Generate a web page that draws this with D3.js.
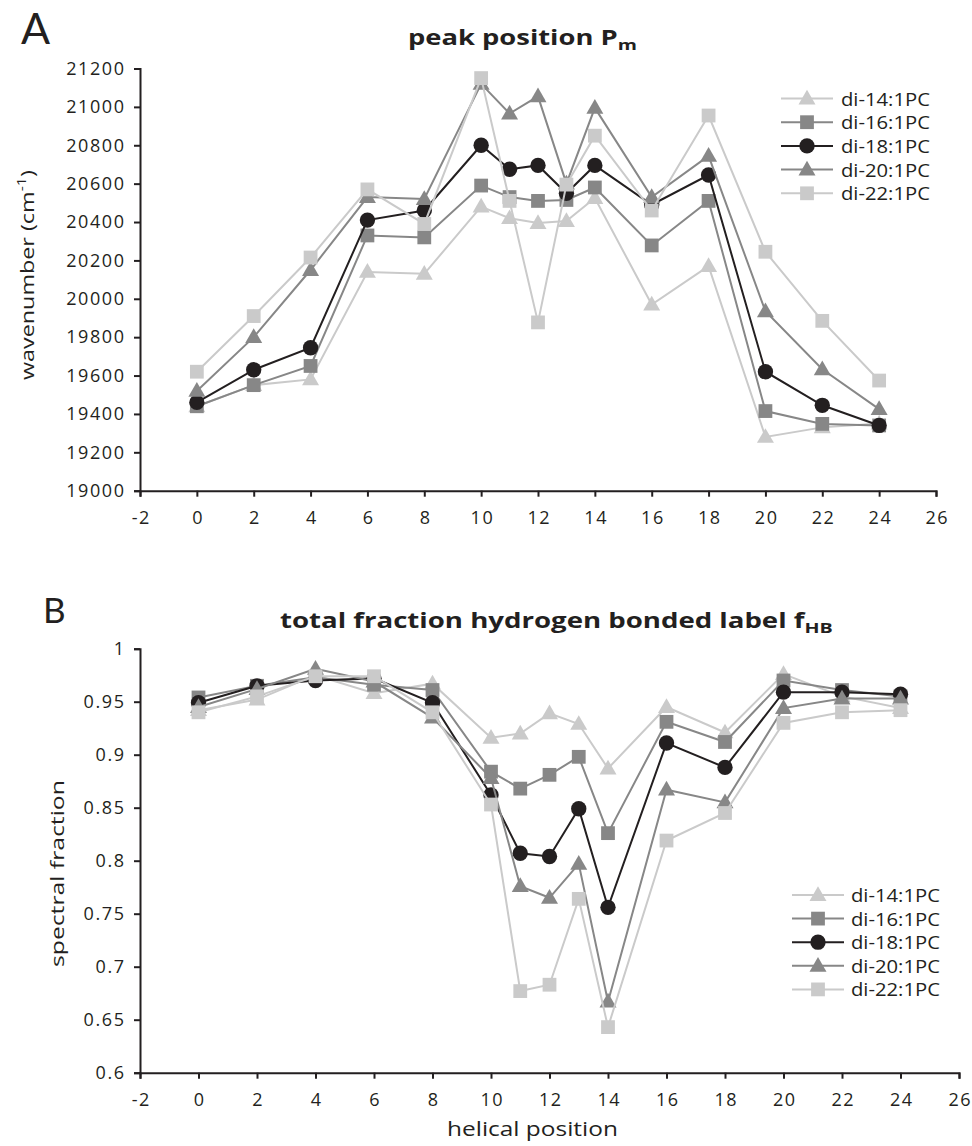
<!DOCTYPE html>
<html>
<head>
<meta charset="utf-8">
<script src="https://cdn.jsdelivr.net/npm/d3@7"></script>
<style>
  html, body { margin: 0; padding: 0; background: #fff; }
  svg { display: block; }
  text { font-family: "Open Sans", sans-serif; fill: #231f20; }
</style>
</head>
<body>
<svg id="chart" width="972" height="1146"></svg>
<script>
// ---------------- DATA ----------------
const positions = [0, 2, 4, 6, 8, 10, 11, 12, 13, 14, 16, 18, 20, 22, 24];
const seriesNames = ["di-14:1PC", "di-16:1PC", "di-18:1PC", "di-20:1PC", "di-22:1PC"];
const seriesShapes = ["triangle", "square", "circle", "triangle", "square"];
const seriesColors = ["#cacaca", "#878787", "#231f20", "#878787", "#cacaca"];

// Panel A: peak position Pm (cm-1)
const peakDi14 = [19440, 19550, 19580, 20140, 20130, 20480, 20420, 20395, 20405, 20525, 19970, 20170, 19280, 19330, 19350];
const peakDi16 = [19440, 19550, 19650, 20330, 20320, 20590, 20530, 20510, 20515, 20580, 20278, 20510, 19415, 19348, 19340];
const peakDi18 = [19460, 19630, 19745, 20410, 20460, 20800, 20675, 20695, 20550, 20695, 20490, 20645, 19620, 19445, 19340];
const peakDi20 = [19520, 19800, 20150, 20530, 20520, 21120, 20965, 21055, 20600, 20995, 20530, 20745, 19935, 19633, 19425];
const peakDi22 = [19620, 19910, 20215, 20570, 20390, 21150, 20510, 19877, 20595, 20850, 20460, 20955, 20245, 19885, 19574];

// Panel B: total fraction hydrogen bonded label fHB
const fhbDi14 = [0.942, 0.952, 0.975, 0.958, 0.967, 0.916, 0.920, 0.939, 0.929, 0.887, 0.945, 0.921, 0.976, 0.955, 0.944];
const fhbDi16 = [0.954, 0.965, 0.973, 0.966, 0.961, 0.884, 0.868, 0.881, 0.898, 0.826, 0.931, 0.912, 0.970, 0.961, 0.955];
const fhbDi18 = [0.949, 0.965, 0.970, 0.972, 0.949, 0.862, 0.807, 0.804, 0.849, 0.756, 0.911, 0.888, 0.959, 0.959, 0.957];
const fhbDi20 = [0.945, 0.962, 0.981, 0.969, 0.935, 0.878, 0.776, 0.765, 0.797, 0.667, 0.867, 0.855, 0.944, 0.953, 0.953];
const fhbDi22 = [0.940, 0.955, 0.974, 0.974, 0.940, 0.853, 0.677, 0.683, 0.764, 0.643, 0.819, 0.845, 0.930, 0.940, 0.942];

const xTicks = [-2, 0, 2, 4, 6, 8, 10, 12, 14, 16, 18, 20, 22, 24, 26];
const yTicksA = [19000, 19200, 19400, 19600, 19800, 20000, 20200, 20400, 20600, 20800, 21000, 21200];
const yTicksB = [0.6, 0.65, 0.7, 0.75, 0.8, 0.85, 0.9, 0.95, 1];

// ---------------- DRAW ----------------
const svg = d3.select("#chart");
const axisColor = "#231f20";

function markerPath(shape) {
  if (shape === "triangle") return d3.symbol(d3.symbolTriangle, 125)();
  if (shape === "square") return d3.symbol(d3.symbolSquare, 190)();
  return d3.symbol(d3.symbolCircle, 185)();
}

// place a text so that it starts at (x0,y0) and is stretched to a given length
// along its own direction (rot = -90 for vertical labels)
function fitText(sel, x0, y0, length, rot) {
  sel.attr("x", 0).attr("y", 0).attr("text-anchor", "start");
  const w = sel.node().getBBox().width;
  const sx = length / w;
  sel.attr("transform", `translate(${x0},${y0}) rotate(${rot || 0}) scale(${sx},1)`);
}

function drawPanel(cfg) {
  const g = svg.append("g");
  const x = d3.scaleLinear().domain([-2, 26]).range([cfg.left, cfg.right]);
  const y = d3.scaleLinear().domain(cfg.yDomain).range([cfg.bottom, cfg.top]);

  const yAxis = d3.axisLeft(y).tickValues(cfg.yTicks).tickSize(6).tickPadding(10)
    .tickFormat(cfg.yFormat);
  const ya = g.append("g").attr("transform", `translate(${cfg.left},0)`).call(yAxis);
  const xAxis = d3.axisBottom(x).tickValues(xTicks).tickSize(6).tickPadding(15)
    .tickFormat(d => d);
  const xa = g.append("g").attr("transform", `translate(0,${cfg.bottom})`).call(xAxis);
  [ya, xa].forEach(a => {
    a.select(".domain").attr("stroke", axisColor).attr("stroke-width", 2);
    a.selectAll(".tick line").attr("stroke", axisColor).attr("stroke-width", 2);
    a.selectAll(".tick text").attr("fill", axisColor)
      .style("font-family", "'Open Sans', sans-serif").style("font-size", "18px")
      .style("letter-spacing", "1.6px");
  });
  xa.selectAll(".tick text").attr("dx", "0.8px");
  ya.selectAll(".tick text").attr("dx", "1.6px");

  cfg.series.forEach((vals, i) => {
    const pts = positions.map((p, j) => [p, vals[j]]);
    const line = d3.line().x(d => x(d[0])).y(d => y(d[1]));
    g.append("path").datum(pts).attr("d", line)
      .attr("fill", "none").attr("stroke", seriesColors[i]).attr("stroke-width", 2);
    g.selectAll(null).data(pts).enter().append("path")
      .attr("d", markerPath(seriesShapes[i]))
      .attr("transform", d => `translate(${x(d[0])},${y(d[1]) + (seriesShapes[i] === "triangle" ? 1 : 0)})`)
      .attr("fill", seriesColors[i]);
  });

  // legend
  const lg = g.append("g");
  seriesNames.forEach((name, i) => {
    const ly = cfg.legY + i * cfg.legStep;
    lg.append("line").attr("x1", cfg.legX).attr("x2", cfg.legX + 52)
      .attr("y1", ly).attr("y2", ly).attr("stroke", seriesColors[i]).attr("stroke-width", 2);
    lg.append("path").attr("d", markerPath(seriesShapes[i]))
      .attr("transform", `translate(${cfg.legX + 26},${ly + (seriesShapes[i] === "triangle" ? 1 : 0)})`)
      .attr("fill", seriesColors[i]);
    const t = lg.append("text").style("font-size", "19px").text(name);
    fitText(t, cfg.legTextX, ly + 7, 89, 0);
  });

  // panel letter
  g.append("text").attr("x", cfg.letterX).attr("y", cfg.letterY)
    .style("font-family", "Lato, 'Open Sans', sans-serif")
    .style("font-size", cfg.letterSize + "px").text(cfg.letter);

  // title with subscript
  const t = g.append("text").style("font-weight", "bold").style("font-size", "21px");
  t.append("tspan").text(cfg.title);
  t.append("tspan").attr("dy", 5).style("font-size", "15px").text(cfg.titleSub);
  fitText(t, cfg.titleX0, cfg.titleY, cfg.titleW, 0);

  // y label
  const yl = g.append("text").style("font-size", "19px");
  yl.append("tspan").text(cfg.yLabel);
  if (cfg.yLabelSup) {
    yl.append("tspan").attr("dy", -8).style("font-size", "13px").text(cfg.yLabelSup);
    yl.append("tspan").attr("dy", 8).text(")");
  }
  fitText(yl, cfg.yLabelX, cfg.yLabelY0, cfg.yLabelLen, -90);
  return { x, y };
}

drawPanel({
  left: 140, right: 936, top: 68.5, bottom: 490.7,
  yDomain: [19000, 21200], yTicks: yTicksA, yFormat: d => d,
  series: [peakDi14, peakDi16, peakDi18, peakDi20, peakDi22],
  legX: 781, legY: 98.5, legStep: 23.7, legTextX: 841,
  letter: "A", letterX: 21, letterY: 44, letterSize: 43,
  title: "peak position P", titleSub: "m", titleX0: 408, titleY: 45, titleW: 229,
  yLabel: "wavenumber (cm", yLabelSup: "-1", yLabelX: 34, yLabelY0: 380, yLabelLen: 210
});

drawPanel({
  left: 140, right: 959, top: 648.7, bottom: 1072.7,
  yDomain: [0.6, 1], yTicks: yTicksB, yFormat: d => String(+d.toFixed(2)),
  series: [fhbDi14, fhbDi16, fhbDi18, fhbDi20, fhbDi22],
  legX: 792, legY: 895, legStep: 23.6, legTextX: 851,
  letter: "B", letterX: 43, letterY: 623, letterSize: 35,
  title: "total fraction hydrogen bonded label f", titleSub: "HB", titleX0: 280, titleY: 628, titleW: 553,
  yLabel: "spectral fraction", yLabelSup: null, yLabelX: 64, yLabelY0: 967, yLabelLen: 187
});

// x-axis label (panel B)
const xl = svg.append("text").style("font-size", "20px").text("helical position");
fitText(xl, 447, 1136, 171, 0);
</script>
</body>
</html>
